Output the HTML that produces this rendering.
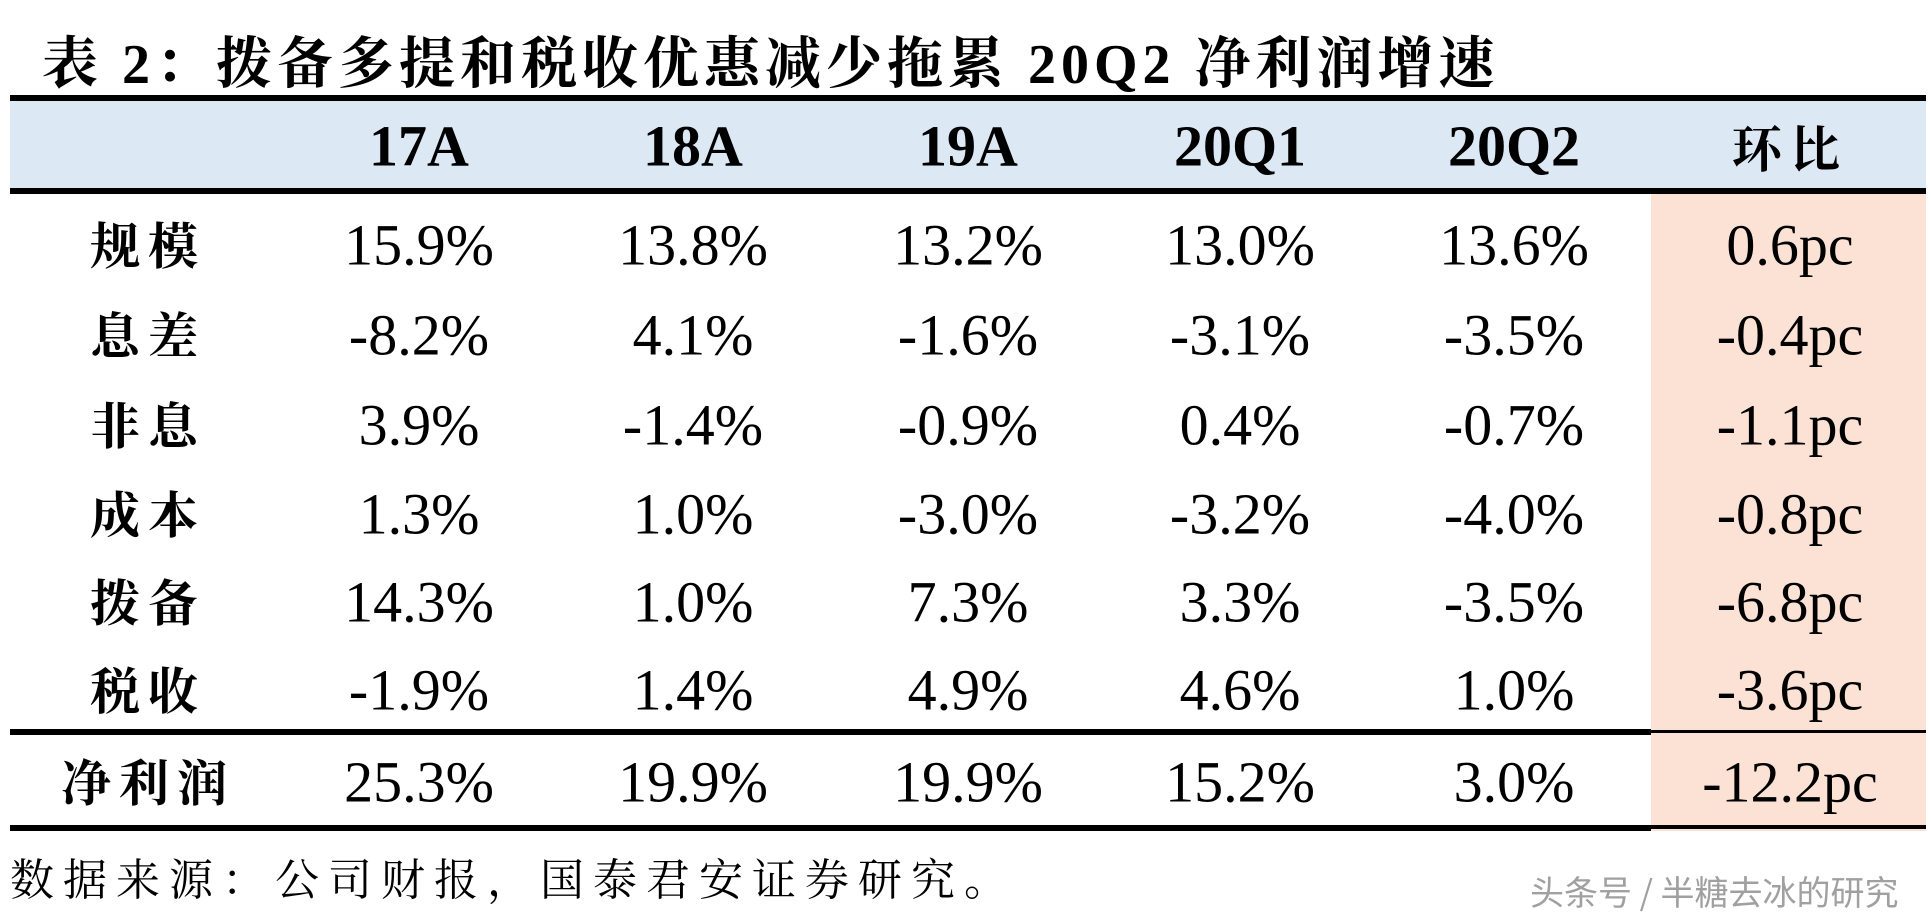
<!DOCTYPE html>
<html><head><meta charset="utf-8">
<style>
html,body{margin:0;padding:0;background:#fff;}
#root{position:relative;width:1931px;height:920px;overflow:hidden;background:#fff;}
.abs{position:absolute;}
.title{left:42px;top:20px;font:bold 56px "Liberation Serif","Noto Serif CJK SC",serif;letter-spacing:5px;white-space:nowrap;color:#000;}
.band{left:10px;top:101px;width:1916px;height:88px;background:#dde8f5;}
.rule{background:#000;}
.pink{background:#fbe2d5;}
.cell{transform:translate(-50%,-50%);white-space:nowrap;color:#000;}
.hd{font:bold 58px "Liberation Serif",serif;}
.hdc{font:bold 50px "Noto Serif CJK SC","Liberation Serif",serif;letter-spacing:8px;}
.lbl{font:bold 50px "Noto Serif CJK SC","Liberation Serif",serif;letter-spacing:8px;}
.num{font-family:"Liberation Serif","Times New Roman","DejaVu Serif",serif;font-size:58px;}
.foot{left:10px;top:844px;font:44px "Noto Serif CJK SC","Liberation Serif",serif;letter-spacing:9px;white-space:nowrap;}
.wm{left:1530px;top:866px;font:34px "Noto Sans CJK SC","Liberation Sans",sans-serif;color:#a0a0a0;white-space:nowrap;}
</style></head><body>
<div id="root">
<div class="abs title">表 2：拨备多提和税收优惠减少拖累 20Q2 净利润增速</div>
<div class="abs band"></div>
<div class="abs pink" style="left:1651px;top:194px;width:275px;height:637px;"></div>
<div class="abs rule" style="left:10px;top:95px;width:1916px;height:6px;"></div>
<div class="abs rule" style="left:10px;top:188px;width:1916px;height:6px;"></div>
<div class="abs rule" style="left:10px;top:729px;width:1641px;height:6px;"></div>
<div class="abs rule" style="left:1651px;top:730px;width:275px;height:3px;"></div>
<div class="abs rule" style="left:10px;top:825px;width:1641px;height:6px;"></div>
<div class="abs rule" style="left:1651px;top:825px;width:275px;height:4px;"></div>
<div id="cells"></div>
<div class="abs foot">数据来源：公司财报，国泰君安证券研究。</div>
<div class="abs wm">头条号 / 半糖去冰的研究</div>
</div>
<script>
const headers = ["17A","18A","19A","20Q1","20Q2","环比"];
const rowLabels = ["规模","息差","非息","成本","拨备","税收","净利润"];
const col17A = ["15.9%","-8.2%","3.9%","1.3%","14.3%","-1.9%","25.3%"];
const col18A = ["13.8%","4.1%","-1.4%","1.0%","1.0%","1.4%","19.9%"];
const col19A = ["13.2%","-1.6%","-0.9%","-3.0%","7.3%","4.9%","19.9%"];
const col20Q1 = ["13.0%","-3.1%","0.4%","-3.2%","3.3%","4.6%","15.2%"];
const col20Q2 = ["13.6%","-3.5%","-0.7%","-4.0%","-3.5%","1.0%","3.0%"];
const colQoQ = ["0.6pc","-0.4pc","-1.1pc","-0.8pc","-6.8pc","-3.6pc","-12.2pc"];
const cols = [col17A,col18A,col19A,col20Q1,col20Q2,colQoQ];
const colX = [419,693,968,1240,1514,1790];
const rowY = [243,333,423,512,600,688,780];
const host = document.getElementById('cells');
function mk(cls,x,y,txt){const d=document.createElement('div');d.className='abs cell '+cls;d.style.left=x+'px';d.style.top=y+'px';d.textContent=txt;host.appendChild(d);return d;}
headers.forEach((h,i)=>{
  const d=mk(i===5?'hdc':'hd',colX[i],146,h);
  
  
});
rowLabels.forEach((l,r)=>{
  const d=mk('lbl',148,rowY[r],l);
  
  
  cols.forEach((c,i)=>{
    const e=mk('num',colX[i],rowY[r]+2,c[r]);
    
    
  });
});
</script>
</body></html>
